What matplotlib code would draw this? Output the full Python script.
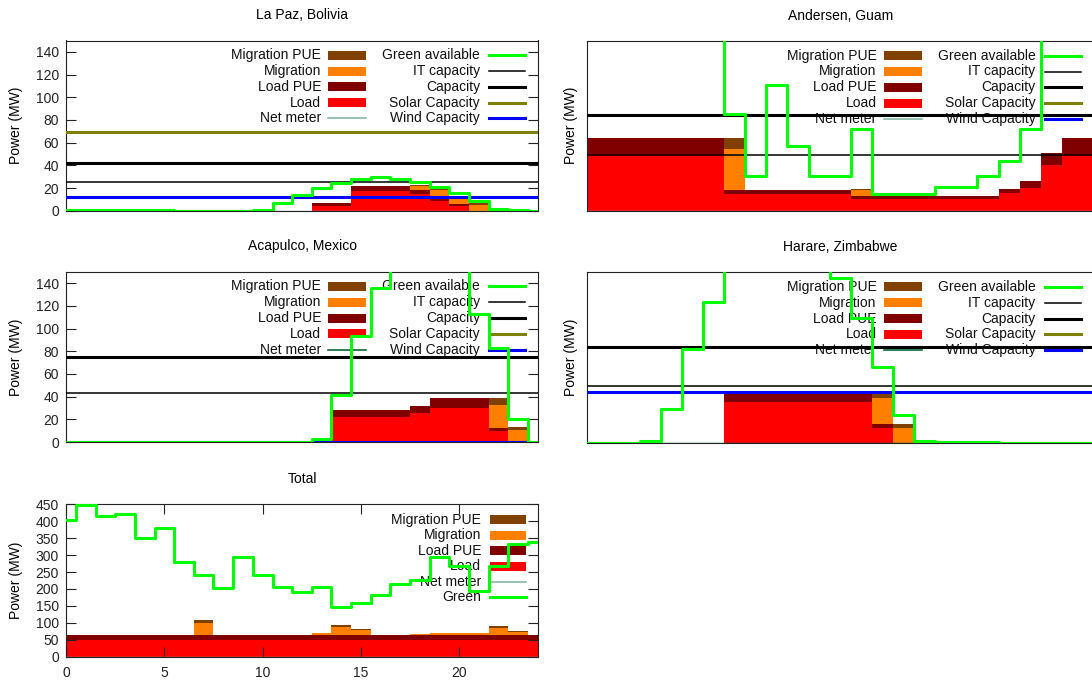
import numpy as np
import matplotlib
matplotlib.use("Agg")
import matplotlib.pyplot as plt
from matplotlib.patches import Rectangle
from matplotlib.lines import Line2D

plt.rcParams["font.family"] = ["Liberation Sans", "DejaVu Sans"]
plt.rcParams["font.size"] = 10

# ---------------------------------------------------------------- data
hours = list(range(25))
site_yticks = [0, 20, 40, 60, 80, 100, 120, 140]
total_yticks = [0, 50, 100, 150, 200, 250, 300, 350, 400, 450]
total_xticks = [0, 5, 10, 15, 20]

lapaz_load     = [0]*13 + [4.4, 4.4, 17.0, 17.0, 17.0, 14.5, 8.7, 4.0, 0, 0, 0, 0]
lapaz_load_pue = [0]*13 + [2.1, 2.1, 5.2, 5.2, 5.2, 3.8, 3.6, 2.0, 0, 0, 0, 0]
lapaz_mig      = [0]*18 + [3.5, 5.9, 4.3, 5.0, 0, 0, 0]
lapaz_mig_pue  = [0]*18 + [0.5, 0.5, 0.6, 1.5, 0, 0, 0]
lapaz_green    = [1.0, 1.0, 0.5, 0.5, 0.3, 0.2, 0, 0, 0, 0, 0.6, 7.0, 14.0,
                  19.9, 24.5, 27.7, 29.5, 27.7, 25.7, 21.0, 15.2, 8.2, 1.2, 0.3, 0]
lapaz_net      = [0]*25
lapaz_it_cap, lapaz_cap, lapaz_solar, lapaz_wind = 25.0, 42.0, 69.5, 12.5

guam_load      = [49.0]*7 + [15.0]*6 + [10.4]*7 + [15.4, 20.1, 40.0, 49.0, 49.0]
guam_load_pue  = [15.0]*7 + [3.4]*6 + [2.3]*7 + [3.9, 5.6, 11.2, 15.2, 15.2]
guam_mig       = [0]*7 + [35.6] + [0]*5 + [5.7] + [0]*11
guam_mig_pue   = [0]*7 + [10.0] + [0]*5 + [0.4] + [0]*11
guam_green     = [402.6, 447.0, 414.9, 418.9, 321.3, 298.5, 156.0, 85.8, 30.4,
                  110.9, 57.0, 30.4, 30.4, 71.9, 14.8, 14.8, 14.8, 20.5, 21.0,
                  30.4, 43.5, 72.5, 184.8, 311.5, 339.7]
guam_net       = [0]*25
guam_it_cap, guam_cap, guam_solar, guam_wind = 49.0, 84.5, None, None

acap_load      = [0]*14 + [22.2]*4 + [25.2] + [30.2]*3 + [9.4, 0, 0]
acap_load_pue  = [0]*14 + [6.2]*4 + [6.7] + [8.8]*3 + [3.2, 0, 0]
acap_mig       = [0]*22 + [20.1, 10.5, 0]
acap_mig_pue   = [0]*22 + [6.3, 2.4, 0]
acap_green     = [0]*13 + [2.5, 41.3, 93.3, 135.9, 165.0, 180.0, 244.0, 209.0,
                           112.4, 82.8, 20.0, 0]
acap_net       = [0]*25
acap_it_cap, acap_cap, acap_solar, acap_wind = 43.5, 74.6, 0.0, 0.0

harare_load     = [0]*7 + [35.6]*7 + [12.7] + [0]*10
harare_load_pue = [0]*7 + [8.4]*7 + [3.8] + [0]*10
harare_mig      = [0]*14 + [22.5, 12.7] + [0]*9
harare_mig_pue  = [0]*14 + [4.5, 3.8] + [0]*9
harare_green    = [0, 0, 0, 1.5, 29.7, 82.5, 123.6, 154.5, 171.5, 184.3, 183.4,
                   168.4, 145.0, 109.5, 66.4, 23.8, 1.0, 0.8, 0.3, 0.2, 0, 0, 0, 0, 0]
harare_net      = [0]*25
harare_it_cap, harare_cap, harare_solar, harare_wind = 50.2, 84.5, None, 44.9

total_load     = [49.3]*25
total_load_pue = [14.7]*25
total_mig      = [0]*7 + [36.4] + [0]*5 + [5.5, 24.6, 13.8, 0, 0, 3.5, 5.5, 5.5, 5.5, 21.7, 8.0, 0]
total_mig_pue  = [0]*7 + [8.0] + [0]*5 + [0.5, 6.0, 3.9, 0, 0, 0.5, 0.5, 0.5, 0.5, 5.9, 3.9, 0]
total_green    = [403.6, 448.0, 415.4, 420.4, 351.0, 381.0, 279.6, 240.3, 201.9,
                  295.2, 241.0, 205.8, 190.0, 204.8, 147.7, 159.5, 182.2, 213.7,
                  226.5, 295.4, 267.8, 194.0, 268.8, 331.8, 339.7]
total_net      = [0]*25

# ---------------------------------------------------------------- styles
C_MIG_PUE = "#804000"
C_MIG = "#ff8000"
C_LOAD_PUE = "#800000"
C_LOAD = "#ff0000"
C_GREEN = "#00ff00"
C_SOLAR = "#808000"
C_WIND = "#0000ff"
C_NET_LIGHT = "#86b8a2"
C_NET_DARK = "#0a6a34"
LW_THICK = 2.2
LW_THIN = 1.1

W, H = 1092, 680
fig = plt.figure(figsize=(W / 100, H / 100), dpi=100)


def axes_px(left, top, right, bottom):
    return fig.add_axes([left / W, 1 - bottom / H, (right - left) / W, (bottom - top) / H])


def style_frame(ax):
    for s in ax.spines.values():
        s.set_color("#222222")
        s.set_linewidth(0.8)


def place_ylabel(ax, x_px_from_left):
    ax.set_ylabel("Power (MW)", fontsize=10)
    ax.yaxis.label.set_va("center")
    ax.yaxis.set_label_coords(x_px_from_left / ax.bbox.width, 0.5)


def draw_stack(ax, load, load_pue, mig, mig_pue):
    # hourly boxes, stacked: load, load PUE, migration, migration PUE.
    # Each layer is filled from zero up to its cumulative top (topmost first),
    # so adjacent hours and layers join without hairline seams.
    layers = [(load, C_LOAD), (load_pue, C_LOAD_PUE),
              (mig, C_MIG), (mig_pue, C_MIG_PUE)]
    tops = np.cumsum([np.asarray(v, dtype=float) for v, _ in layers], axis=0)
    for top, (_, col) in reversed(list(zip(tops, layers))):
        ax.fill_between(hours, 0, top, step="mid", facecolor=col,
                        edgecolor="none", linewidth=0, zorder=1)


def hline(ax, value, color, lw):
    if value is not None:
        ax.axhline(value, color=color, lw=lw, zorder=3)


def draw_key(ax, columns, row0, dy):
    aw, ah = ax.bbox.width, ax.bbox.height
    for (tx, s0, s1), entries in columns:
        for i, (label, kind, color, lw) in enumerate(entries):
            y = -(row0 + dy * i)
            ax.text(1 + tx / aw, 1 + y / ah, label, transform=ax.transAxes,
                    ha="right", va="center", fontsize=10, zorder=1.5, color="#111111")
            if kind == "box":
                ax.add_patch(Rectangle((1 + s0 / aw, 1 + (y - 4.5) / ah),
                                       (s1 - s0) / aw, 9 / ah, transform=ax.transAxes,
                                       facecolor=color, edgecolor="none",
                                       clip_on=False, zorder=2))
            else:
                ax.add_line(Line2D([1 + s0 / aw, 1 + s1 / aw], [1 + y / ah] * 2,
                                   transform=ax.transAxes, color=color, lw=lw,
                                   clip_on=False, zorder=2))


def site_panel(ax, title, load, load_pue, mig, mig_pue, green, net,
               it_cap, cap, solar, wind, net_color, with_ticks):
    draw_stack(ax, load, load_pue, mig, mig_pue)
    ax.step(hours, net, where="mid", color=net_color, lw=1.0, zorder=3)
    hline(ax, it_cap, "black", LW_THIN)
    hline(ax, cap, "black", LW_THICK)
    hline(ax, solar, C_SOLAR, LW_THICK)
    hline(ax, wind, C_WIND, LW_THICK)
    ax.step(hours, green, where="mid", color=C_GREEN, lw=LW_THICK, zorder=4)
    ax.set_xlim(0, 24)
    ax.set_ylim(0, 150)
    ax.set_title(title, pad=25.5 * 0.72, va="center", fontsize=10)
    if with_ticks:
        ax.set_yticks(site_yticks)
        ax.tick_params(axis="y", direction="in", length=7, width=0.8, left=True,
                       right=True, pad=5, labelsize=10, colors="#222222")
        place_ylabel(ax, 16 - 66)
    else:
        ax.set_yticks([])
        place_ylabel(ax, 570.5 - 587)
    ax.set_xticks([])
    style_frame(ax)
    col1 = [("Migration PUE", "box", C_MIG_PUE, 0),
            ("Migration", "box", C_MIG, 0),
            ("Load PUE", "box", C_LOAD_PUE, 0),
            ("Load", "box", C_LOAD, 0),
            ("Net meter", "line", net_color, 1.2)]
    col2 = [("Green available", "line", C_GREEN, LW_THICK),
            ("IT capacity", "line", "black", LW_THIN),
            ("Capacity", "line", "black", LW_THICK),
            ("Solar Capacity", "line", C_SOLAR, LW_THICK),
            ("Wind Capacity", "line", C_WIND, LW_THICK)]
    draw_key(ax, [((-217, -210, -172), col1), ((-58, -49, -13), col2)],
             row0=14.7, dy=15.8)


ax1 = axes_px(66, 40.5, 538, 210.7)
site_panel(ax1, "La Paz, Bolivia", lapaz_load, lapaz_load_pue, lapaz_mig,
           lapaz_mig_pue, lapaz_green, lapaz_net, lapaz_it_cap, lapaz_cap,
           lapaz_solar, lapaz_wind, C_NET_LIGHT, True)

ax2 = axes_px(587, 41, 1093.5, 210.5)
site_panel(ax2, "Andersen, Guam", guam_load, guam_load_pue, guam_mig,
           guam_mig_pue, guam_green, guam_net, guam_it_cap, guam_cap,
           guam_solar, guam_wind, C_NET_LIGHT, False)

ax3 = axes_px(66, 271.8, 538, 442)
site_panel(ax3, "Acapulco, Mexico", acap_load, acap_load_pue, acap_mig,
           acap_mig_pue, acap_green, acap_net, acap_it_cap, acap_cap,
           acap_solar, acap_wind, C_NET_DARK, True)

ax4 = axes_px(587, 272.3, 1093.5, 442.5)
site_panel(ax4, "Harare, Zimbabwe", harare_load, harare_load_pue, harare_mig,
           harare_mig_pue, harare_green, harare_net, harare_it_cap, harare_cap,
           harare_solar, harare_wind, C_NET_DARK, False)

# ---------------------------------------------------------------- total
ax5 = axes_px(66, 504.3, 538, 656.7)
draw_stack(ax5, total_load, total_load_pue, total_mig, total_mig_pue)
ax5.step(hours, total_net, where="mid", color=C_NET_LIGHT, lw=1.0, zorder=3)
ax5.step(hours, total_green, where="mid", color=C_GREEN, lw=LW_THICK, zorder=4)
ax5.set_xlim(0, 24)
ax5.set_ylim(0, 450)
ax5.set_xticks(total_xticks)
ax5.set_yticks(total_yticks)
ax5.tick_params(axis="both", direction="in", length=7, width=0.8, left=True,
                right=True, top=True, bottom=True, labelsize=10, colors="#222222")
ax5.tick_params(axis="y", pad=5)
ax5.tick_params(axis="x", pad=7)
ax5.set_title("Total", pad=25.5 * 0.72, va="center", fontsize=10)
place_ylabel(ax5, 16 - 66)
style_frame(ax5)
total_key = [("Migration PUE", "box", C_MIG_PUE, 0),
             ("Migration", "box", C_MIG, 0),
             ("Load PUE", "box", C_LOAD_PUE, 0),
             ("Load", "box", C_LOAD, 0),
             ("Net meter", "line", C_NET_LIGHT, 1.2),
             ("Green", "line", C_GREEN, LW_THICK)]
draw_key(ax5, [((-57, -48, -12), total_key)], row0=15.5, dy=15.5)

fig.savefig("out.png", dpi=100)
